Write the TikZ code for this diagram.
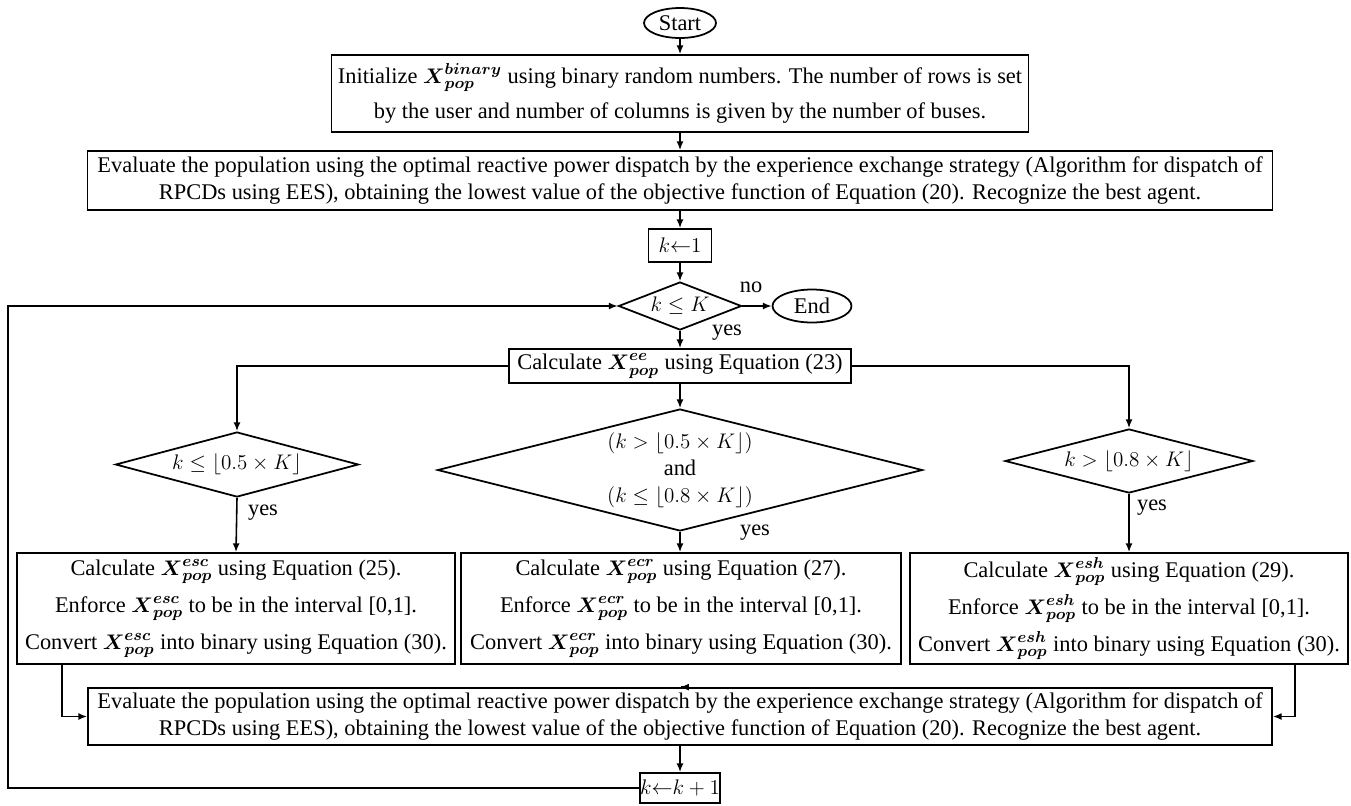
\documentclass[tikz,border=0pt]{standalone}
\usepackage{amsmath}
\usepackage{fontspec}
\setmainfont{Liberation Serif}
\usetikzlibrary{shapes.geometric,arrows.meta}
% one drawing unit = one pixel of the layout grid
\newcommand{\pxu}{0.02cm}
\newcommand{\Xp}[1]{\boldsymbol{X}^{\boldsymbol{#1}}_{\boldsymbol{pop}}}
\newcommand{\fl}[1]{\lfloor #1 \rfloor}

\begin{document}
\begin{tikzpicture}[x=0.02cm,y=-0.02cm,
  font=\fontsize{12.75}{15.5}\selectfont,
  box/.style={draw,line width=1pt,rectangle,inner sep=0pt,align=center},
  dia/.style={draw,line width=1pt,diamond,inner sep=0pt,align=center},
  term/.style={draw,line width=1pt,ellipse,inner sep=0pt},
  arr/.style={line width=0.9pt,-{Latex[length=5pt,width=4pt]}},
  lbl/.style={inner sep=0pt}]

\useasboundingbox[fill=white] (0,0) rectangle (1351,805);

% ---- main chain ----
\node[term,minimum width=72*\pxu,minimum height=30*\pxu] (start) at (680,23) {Start};

\node[box,minimum width=697*\pxu,minimum height=77*\pxu,
      font=\fontsize{12.75}{20}\selectfont] (box1) at (680,93.5)
  {Initialize $\Xp{binary}$ using binary random numbers. The number of rows is set\\
   by the user and number of columns is given by the number of buses.};

\node[box,minimum width=1185*\pxu,minimum height=59*\pxu] (box2) at (680,180.5)
  {Evaluate the population using the optimal reactive power dispatch by the experience exchange strategy (Algorithm for dispatch of\\
   RPCDs using EES), obtaining the lowest value of the objective function of Equation (20). Recognize the best agent.};

\node[box,minimum width=63*\pxu,minimum height=33*\pxu] (k1) at (680,245.5) {$k{\leftarrow}1$};

\node[dia,aspect=2.56,minimum width=123*\pxu,minimum height=48*\pxu] (d0) at (680,306) {$k \leq K$};

\node[term,minimum width=79*\pxu,minimum height=33*\pxu] (end) at (812,306) {End};
\node[lbl] (no) at (751,287) {no};
\node[lbl] (yes0) at (727,333) {yes};

\node[box,minimum width=342*\pxu,minimum height=34*\pxu] (calcEE) at (680,366)
  {Calculate $\Xp{ee}$ using Equation (23)};

% ---- three branches ----
\node[dia,aspect=3.74,minimum width=243*\pxu,minimum height=65*\pxu] (dA) at (237,464.5)
  {$k \leq \fl{0.5 \times K}$};
\node[dia,aspect=3.98,minimum width=485*\pxu,minimum height=122*\pxu] (dB) at (680,470)
  {$(k > \fl{0.5 \times K})$\\ and\\ $(k \leq \fl{0.8 \times K})$};
\node[dia,aspect=3.88,minimum width=248*\pxu,minimum height=64*\pxu] (dC) at (1129,461)
  {$k > \fl{0.8 \times K}$};

\node[lbl] (yesA) at (263,513) {yes};
\node[lbl] (yesB) at (755,533) {yes};
\node[lbl] (yesC) at (1152,508) {yes};

\tikzset{tri/.style={box,minimum width=438*\pxu,minimum height=111*\pxu,
                     font=\fontsize{12.75}{21}\selectfont}}
\node[tri] (boxA) at (236,608.5)
  {Calculate $\Xp{esc}$ using Equation (25).\\
   Enforce $\Xp{esc}$ to be in the interval [0,1].\\
   Convert $\Xp{esc}$ into binary using Equation (30).};
\node[tri,minimum width=440*\pxu] (boxB) at (681,608.5)
  {Calculate $\Xp{ecr}$ using Equation (27).\\
   Enforce $\Xp{ecr}$ to be in the interval [0,1].\\
   Convert $\Xp{ecr}$ into binary using Equation (30).};
\node[tri] (boxC) at (1129,608.5)
  {Calculate $\Xp{esh}$ using Equation (29).\\
   Enforce $\Xp{esh}$ to be in the interval [0,1].\\
   Convert $\Xp{esh}$ into binary using Equation (30).};

\node[box,minimum width=1184*\pxu,minimum height=57*\pxu] (eval) at (680,716.5)
  {Evaluate the population using the optimal reactive power dispatch by the experience exchange strategy (Algorithm for dispatch of\\
   RPCDs using EES), obtaining the lowest value of the objective function of Equation (20). Recognize the best agent.};

\node[box,minimum width=80*\pxu,minimum height=30*\pxu] (kk) at (680,788) {$k{\leftarrow}k+1$};

% ---- connectors ----
\coordinate (lx) at (62,0);
\coordinate (rx) at (1295,0);
\coordinate (lp) at (8,0);

\draw[arr] (start.south) -- (box1.north);
\draw[arr] (box1.south) -- (box2.north);
\draw[arr] (box2.south) -- (k1.north);
\draw[arr] (k1.south) -- (d0.north);
\draw[arr] (d0.east) -- (end.west);
\draw[arr] (d0.south) -- (calcEE.north);
\draw[arr] (calcEE.west) -| (dA.north);
\draw[arr] (calcEE.south) -- (dB.north);
\draw[arr] (calcEE.east) -| (dC.north);
\draw[arr] (dA.south) -- (boxA.north);
\draw[arr] (dB.south) -- (dB.south |- boxB.north);
\draw[arr] (dC.south) -- (boxC.north);
\draw[arr] (lx |- boxA.south) |- (eval.west);
\draw[arr] (rx |- boxC.south) |- (eval.east);
\draw[arr] (eval.north -| boxB.south) -- (eval.north);
\draw[arr] (eval.south) -- (kk.north);
\draw[arr] (kk.west) -- (lp |- kk.west) -- (lp |- d0.west) -- (d0.west);
\end{tikzpicture}
\end{document}
